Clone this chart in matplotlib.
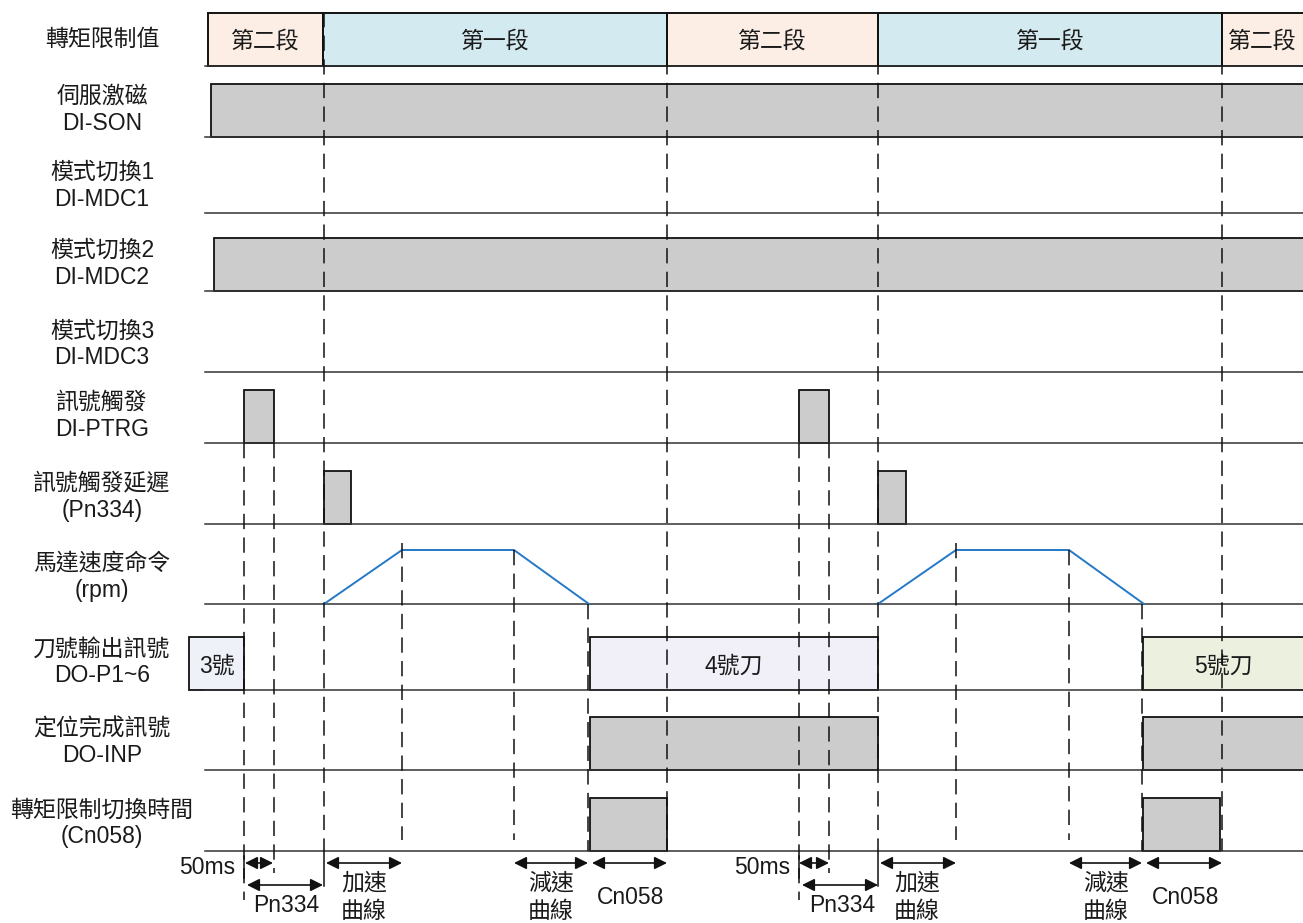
import matplotlib
matplotlib.use("Agg")
import matplotlib.pyplot as plt
from matplotlib.patches import Rectangle, FancyArrowPatch

plt.rcParams['font.family'] = ['Liberation Sans', 'Noto Sans CJK TC', 'DejaVu Sans']
plt.rcParams['lines.scale_dashes'] = False

# ---------------- data ----------------
row_labels = [['轉矩限制值'], ['伺服激磁', 'DI-SON'], ['模式切換1', 'DI-MDC1'],
              ['模式切換2', 'DI-MDC2'], ['模式切換3', 'DI-MDC3'], ['訊號觸發', 'DI-PTRG'],
              ['訊號觸發延遲', '(Pn334)'], ['馬達速度命令', '(rpm)'],
              ['刀號輸出訊號', 'DO-P1~6'], ['定位完成訊號', 'DO-INP'],
              ['轉矩限制切換時間', '(Cn058)']]
row_base = [66, 137, 213, 291, 372, 443, 524, 604, 690, 770, 851]

# time events (horizontal positions along time axis)
torque_bounds = [208, 323, 667, 878, 1222, 1340]
torque_stage = ['第二段', '第一段', '第二段', '第一段', '第二段']
son_on = [(211, 1340)]
mdc2_on = [(214, 1340)]
ptrg_pulses = [(244, 274), (799, 829)]
delay_pulses = [(324, 351), (878, 906)]
speed_t = [[324, 402, 514, 589], [878, 956, 1069, 1144]]
speed_v = [[0, 1, 1, 0], [0, 1, 1, 0]]
tool_spans = [(189, 244), (590, 878), (1143, 1340)]
tool_labels = ['3號', '4號刀', '5號刀']
inp_on = [(590, 878), (1143, 1340)]
cn058_on = [(590, 667), (1143, 1220)]

# guide lines: time, start level, end level
guides = [(244, 443, 900), (274, 443, 873), (324, 12, 851), (402, 543, 840),
          (514, 550, 840), (588, 604, 851), (667, 12, 851),
          (799, 443, 900), (829, 443, 873), (878, 12, 851), (956, 543, 840),
          (1069, 550, 840), (1142, 604, 851), (1222, 12, 851)]

# interval annotations: (start, end, level, label lines, label_x, first line y, ha)
intervals = [(245, 273, 863, ['50ms'], 235, 868, 'right'),
             (247, 323, 885, ['Pn334'], 286, 906, 'center'),
             (326, 402, 863, ['加速', '曲線'], 364, 883, 'center'),
             (514, 588, 863, ['減速', '曲線'], 551, 883, 'center'),
             (592, 667, 863, ['Cn058'], 631, 898, 'center'),
             (799, 829, 863, ['50ms'], 790, 868, 'right'),
             (802, 878, 885, ['Pn334'], 842, 906, 'center'),
             (880, 956, 863, ['加速', '曲線'], 917, 883, 'center'),
             (1069, 1142, 863, ['減速', '曲線'], 1106, 883, 'center'),
             (1146, 1222, 863, ['Cn058'], 1186, 898, 'center')]

# ---------------- style ----------------
W, Hh = 1303, 923
H = 53
XMAX = W
col_stage = {'第二段': '#FCEEE4', '第一段': '#D3EAF0'}
gray = '#CCCCCC'
tool_cols = ['#EEF1F8', '#F1EFF7', '#ECF1DF']
txt = '#1a1a1a'
FS = 16.5

fig = plt.figure(figsize=(W / 100, Hh / 100), dpi=100)
ax = fig.add_axes([0, 0, 1, 1])
ax.set_xlim(0, W)
ax.set_ylim(Hh, 0)
ax.axis('off')

def box(x0, x1, base, fc, lw=1.3, z=2):
    ax.add_patch(Rectangle((x0, base - H), x1 - x0, H, facecolor=fc,
                           edgecolor='#111111', lw=lw, zorder=z))

# baselines
for b in row_base:
    ax.plot([205, XMAX], [b, b], color='#333333', lw=1.1, zorder=3)

# left labels
for lab, b in zip(row_labels, row_base):
    if len(lab) == 1:
        ax.text(102, b - 27, lab[0], ha='center', va='center', fontsize=FS, color=txt)
    else:
        ax.text(102, b - 41, lab[0], ha='center', va='center', fontsize=FS, color=txt)
        ax.text(102, b - 14, lab[1], ha='center', va='center', fontsize=FS, color=txt)

# torque stage row
for x0, x1, s in zip(torque_bounds[:-1], torque_bounds[1:], torque_stage):
    box(x0, x1, row_base[0], col_stage[s], lw=1.4)
    xc = (x0 + min(x1, XMAX)) / 2
    ax.text(xc, row_base[0] - 25, s, ha='center', va='center', fontsize=FS, color=txt, zorder=5)

for x0, x1 in son_on:
    box(x0, x1, row_base[1], gray)
for x0, x1 in mdc2_on:
    box(x0, x1, row_base[3], gray)
for x0, x1 in ptrg_pulses:
    box(x0, x1, row_base[5], gray)
for x0, x1 in delay_pulses:
    box(x0, x1, row_base[6], gray)

# speed profile
for t, v in zip(speed_t, speed_v):
    ax.plot(t, [row_base[7] - 54 * vv for vv in v], color='#2479C8', lw=1.4, zorder=4)

for (x0, x1), lab, c in zip(tool_spans, tool_labels, tool_cols):
    box(x0, x1, row_base[8], c)
    xc = (x0 + min(x1, XMAX)) / 2
    ax.text(xc, row_base[8] - 24, lab, ha='center', va='center', fontsize=FS, color=txt, zorder=5)
for x0, x1 in inp_on:
    box(x0, x1, row_base[9], gray)
for x0, x1 in cn058_on:
    box(x0, x1, row_base[10], gray)

# guide lines
for x, y0, y1 in guides:
    ax.plot([x, x], [y0, y1], color='#111111', lw=1.1, dashes=(11, 6), zorder=6)
for x in (324, 878):
    ax.plot([x, x], [row_base[10], 886], color='#111111', lw=1.1, zorder=6)
for x in (244, 799):
    ax.plot([x, x], [row_base[10] + 5, 878], color='#111111', lw=1.1, zorder=6)

# interval arrows
for x0, x1, y, lines, lx, ly, ha in intervals:
    ax.add_patch(FancyArrowPatch((x0, y), (x1, y), arrowstyle='<|-|>,head_length=0.5,head_width=0.25',
                                 mutation_scale=15, color='#111111', lw=1.2,
                                 shrinkA=0, shrinkB=0, zorder=7))
    for i, s in enumerate(lines):
        ax.text(lx, ly + 29 * i, s, ha=ha, va='center', fontsize=FS, color=txt, zorder=7)

fig.savefig('out.png', dpi=100)
